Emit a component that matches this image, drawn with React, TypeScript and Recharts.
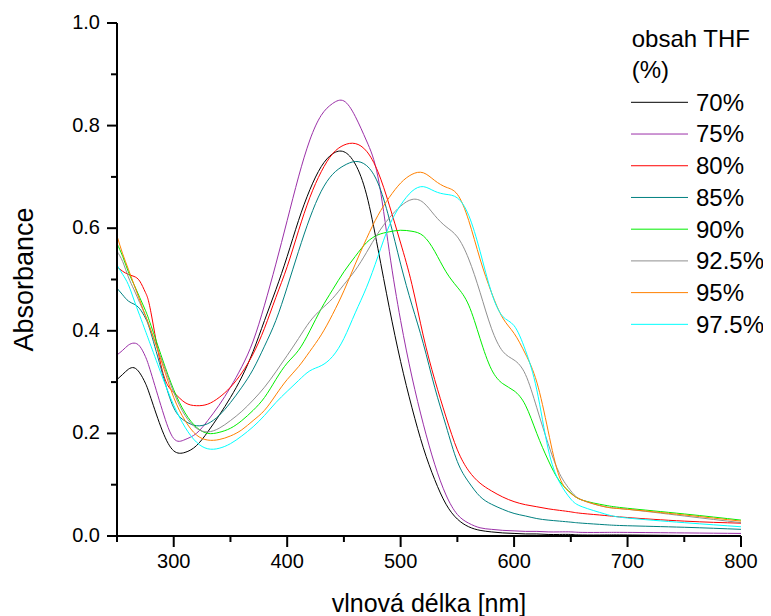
import React from 'react';
import { LineChart, Line, XAxis, YAxis, Legend, Label } from 'recharts';

const FONT = "'Liberation Sans', Arial, sans-serif";

const wavelengths = [250, 255, 260, 265, 270, 275, 280, 290, 300, 310, 320, 330, 340, 350, 360, 370, 380, 390, 400, 410, 420, 430, 440, 450, 460, 470, 480, 490, 500, 510, 520, 530, 540, 550, 560, 570, 580, 590, 600, 610, 620, 630, 640, 650, 660, 680, 700, 750, 800];

const thf70 = [0.305, 0.315, 0.325, 0.328, 0.318, 0.298, 0.268, 0.205, 0.166, 0.163, 0.176, 0.203, 0.235, 0.27, 0.31, 0.36, 0.42, 0.48, 0.545, 0.615, 0.675, 0.72, 0.745, 0.749, 0.725, 0.665, 0.56, 0.445, 0.34, 0.25, 0.172, 0.11, 0.062, 0.033, 0.018, 0.011, 0.008, 0.006, 0.005, 0.004, 0.004, 0.003, 0.003, 0.003, 0.002, 0.002, 0.002, 0.001, 0.001];
const thf75 = [0.353, 0.362, 0.372, 0.376, 0.37, 0.35, 0.318, 0.245, 0.19, 0.188, 0.2, 0.225, 0.255, 0.29, 0.33, 0.38, 0.45, 0.53, 0.615, 0.70, 0.772, 0.82, 0.843, 0.848, 0.818, 0.77, 0.70, 0.555, 0.42, 0.31, 0.218, 0.14, 0.08, 0.042, 0.025, 0.016, 0.013, 0.011, 0.01, 0.009, 0.009, 0.008, 0.008, 0.008, 0.007, 0.007, 0.007, 0.006, 0.005];
const thf80 = [0.525, 0.516, 0.51, 0.506, 0.497, 0.475, 0.435, 0.322, 0.28, 0.26, 0.254, 0.257, 0.27, 0.29, 0.318, 0.355, 0.405, 0.465, 0.525, 0.595, 0.66, 0.71, 0.745, 0.762, 0.765, 0.75, 0.71, 0.645, 0.571, 0.49, 0.39, 0.305, 0.232, 0.168, 0.127, 0.103, 0.088, 0.076, 0.067, 0.061, 0.057, 0.053, 0.05, 0.047, 0.044, 0.04, 0.036, 0.029, 0.025];
const thf85 = [0.483, 0.47, 0.458, 0.452, 0.443, 0.425, 0.395, 0.317, 0.25, 0.224, 0.215, 0.219, 0.235, 0.26, 0.29, 0.325, 0.37, 0.42, 0.485, 0.555, 0.62, 0.672, 0.705, 0.722, 0.73, 0.722, 0.688, 0.618, 0.53, 0.45, 0.375, 0.29, 0.215, 0.145, 0.105, 0.077, 0.062, 0.052, 0.044, 0.039, 0.034, 0.031, 0.029, 0.027, 0.025, 0.022, 0.02, 0.017, 0.013];
const thf90 = [0.57, 0.545, 0.515, 0.49, 0.465, 0.44, 0.41, 0.345, 0.285, 0.24, 0.212, 0.2, 0.202, 0.21, 0.225, 0.245, 0.27, 0.305, 0.337, 0.362, 0.40, 0.443, 0.48, 0.515, 0.545, 0.572, 0.587, 0.593, 0.596, 0.594, 0.585, 0.555, 0.515, 0.485, 0.45, 0.385, 0.325, 0.297, 0.283, 0.255, 0.20, 0.148, 0.107, 0.084, 0.07, 0.06, 0.054, 0.043, 0.031];
const thf925 = [0.555, 0.535, 0.505, 0.48, 0.455, 0.43, 0.40, 0.34, 0.28, 0.235, 0.21, 0.203, 0.21, 0.225, 0.243, 0.265, 0.29, 0.32, 0.352, 0.385, 0.418, 0.442, 0.463, 0.49, 0.518, 0.553, 0.59, 0.62, 0.643, 0.656, 0.65, 0.625, 0.603, 0.583, 0.54, 0.475, 0.405, 0.36, 0.343, 0.315, 0.25, 0.18, 0.122, 0.088, 0.07, 0.057, 0.052, 0.039, 0.026];
const thf95 = [0.585, 0.55, 0.52, 0.49, 0.46, 0.43, 0.40, 0.335, 0.27, 0.225, 0.197, 0.187, 0.188, 0.195, 0.207, 0.225, 0.245, 0.275, 0.305, 0.33, 0.36, 0.392, 0.432, 0.478, 0.53, 0.58, 0.625, 0.66, 0.688, 0.705, 0.708, 0.693, 0.68, 0.666, 0.615, 0.54, 0.475, 0.425, 0.395, 0.355, 0.30, 0.205, 0.115, 0.083, 0.07, 0.057, 0.052, 0.041, 0.029];
const thf975 = [0.528, 0.51, 0.49, 0.46, 0.43, 0.40, 0.37, 0.31, 0.255, 0.212, 0.183, 0.17, 0.171, 0.18, 0.195, 0.213, 0.235, 0.26, 0.282, 0.303, 0.322, 0.332, 0.35, 0.385, 0.435, 0.485, 0.545, 0.605, 0.645, 0.672, 0.681, 0.672, 0.666, 0.659, 0.625, 0.555, 0.475, 0.428, 0.41, 0.362, 0.285, 0.17, 0.105, 0.072, 0.057, 0.043, 0.035, 0.026, 0.018];

const xTicks = [250, 300, 350, 400, 450, 500, 550, 600, 650, 700, 750, 800];
const yTicks = [0, 0.1, 0.2, 0.3, 0.4, 0.5, 0.6, 0.7, 0.8, 0.9, 1.0];

const series = [
  { key: 'thf70', name: '70%', color: '#000000', values: thf70 },
  { key: 'thf75', name: '75%', color: '#9B30A8', values: thf75 },
  { key: 'thf80', name: '80%', color: '#FF0000', values: thf80 },
  { key: 'thf85', name: '85%', color: '#008080', values: thf85 },
  { key: 'thf90', name: '90%', color: '#00EE00', values: thf90 },
  { key: 'thf925', name: '92.5%', color: '#909090', values: thf925 },
  { key: 'thf95', name: '95%', color: '#FF8000', values: thf95 },
  { key: 'thf975', name: '97.5%', color: '#00FFFF', values: thf975 },
];

const data = wavelengths.map((w, i) => {
  const row: any = { w };
  series.forEach((s) => {
    row[s.key] = s.values[i];
  });
  return row;
});

const XTick = (props: any) => {
  const { x, y, payload } = props;
  const v = payload.value;
  const major = v % 100 === 0;
  return (
    <g>
      <line x1={x} x2={x} y1={y} y2={y + (major ? 11 : 6)} stroke="#000" strokeWidth={2} />
      {major && (
        <text x={x} y={y + 32} textAnchor="middle" fontSize={20} fontFamily={FONT} fill="#000">
          {v}
        </text>
      )}
    </g>
  );
};

const YTick = (props: any) => {
  const { x, y, payload } = props;
  const n = Math.round(payload.value * 10);
  const major = n % 2 === 0;
  return (
    <g>
      <line x1={x - (major ? 10 : 6)} x2={x} y1={y} y2={y} stroke="#000" strokeWidth={2} />
      {major && (
        <text x={x - 17} y={y + 6} textAnchor="end" fontSize={20} fontFamily={FONT} fill="#000">
          {(n / 10).toFixed(1)}
        </text>
      )}
    </g>
  );
};

const renderLegend = () => (
  <svg width={150} height={330} style={{ display: 'block' }}>
    <text x={11.7} y={29} fontSize={24} fontFamily={FONT} fill="#000">obsah THF</text>
    <text x={11.7} y={60.3} fontSize={24} fontFamily={FONT} fill="#000">(%)</text>
    {series.map((s, i) => {
      const cy = 84.3 + i * 31.72;
      return (
        <g key={s.key}>
          <line x1={11} x2={68} y1={cy} y2={cy} stroke={s.color} strokeWidth={1} />
          <text x={76} y={cy + 8.4} fontSize={24} fontFamily={FONT} fill="#000">{s.name}</text>
        </g>
      );
    })}
  </svg>
);

export default function App() {
  return (
    <div style={{ width: 763, height: 608 }}>
      <LineChart width={763} height={608} data={data} margin={{ top: 15, right: 30, left: 0, bottom: 0 }}>
        <XAxis
          dataKey="w"
          type="number"
          domain={[250, 800]}
          ticks={xTicks}
          interval={0}
          allowDataOverflow
          tick={(p: any) => <XTick {...p} />}
          tickLine={false}
          tickSize={0}
          tickMargin={0}
          height={80}
          axisLine={{ stroke: '#000', strokeWidth: 2 }}
        >
          <Label value="vlnová délka [nm]" position="insideBottom" offset={4} fontSize={25} fontFamily={FONT} fill="#000" />
        </XAxis>
        <YAxis
          type="number"
          domain={[0, 1]}
          ticks={yTicks}
          interval={0}
          allowDataOverflow
          tick={(p: any) => <YTick {...p} />}
          tickLine={false}
          tickSize={0}
          tickMargin={0}
          width={109}
          axisLine={{ stroke: '#000', strokeWidth: 2 }}
        >
          <Label
            value="Absorbance"
            angle={-90}
            position="insideLeft"
            offset={15}
            fontSize={27}
            fontFamily={FONT}
            fill="#000"
            style={{ textAnchor: 'middle' }}
          />
        </YAxis>
        <Legend
          content={renderLegend}
          layout="vertical"
          align="center"
          verticalAlign="middle"
          wrapperStyle={{ left: 612, top: 10, width: 150, height: 330 }}
        />
        {series.map((s) => (
          <Line
            key={s.key}
            type="natural"
            dataKey={s.key}
            name={s.name}
            stroke={s.color}
            strokeWidth={1}
            dot={false}
            activeDot={false}
            isAnimationActive={false}
          />
        ))}
      </LineChart>
    </div>
  );
}
